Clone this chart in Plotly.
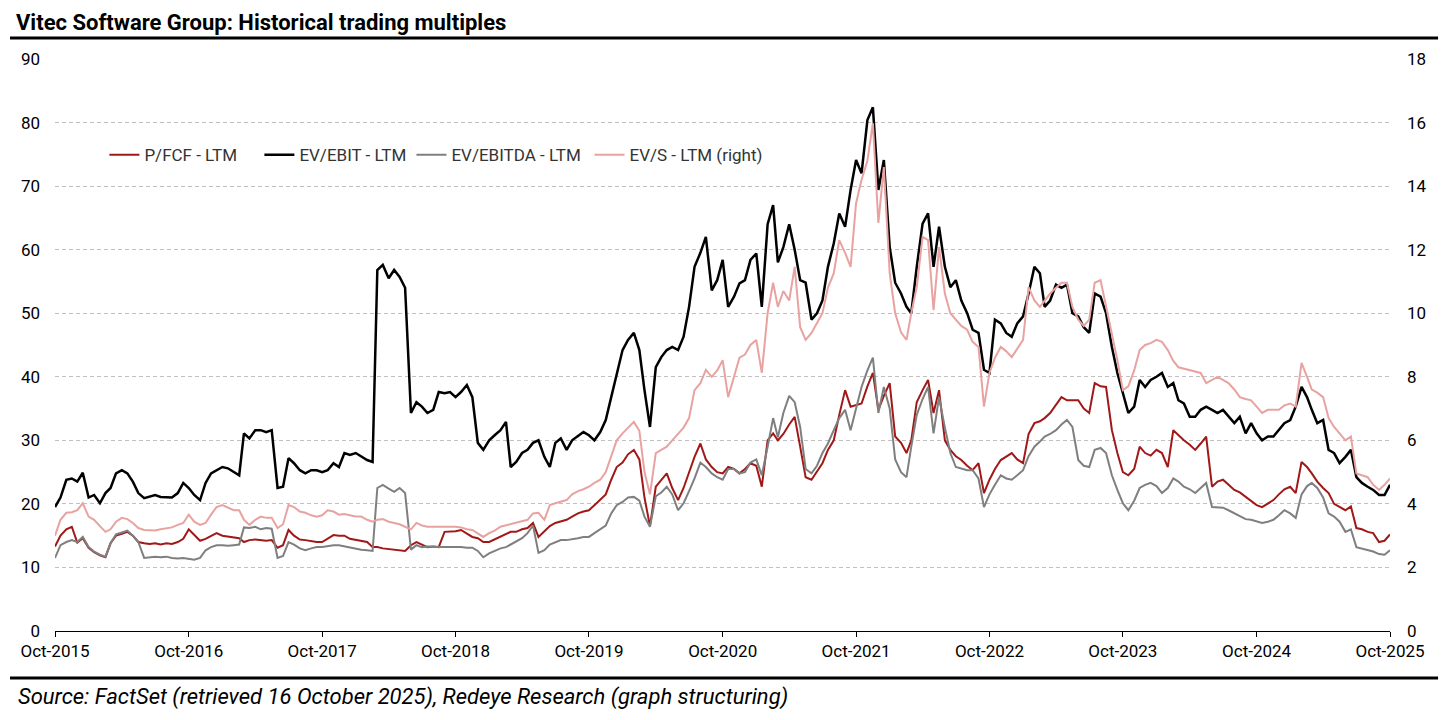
import plotly.graph_objects as go

# Semi-monthly observations, Oct-2015 .. Oct-2025 (1st and 16th of each month)
dates = []
for year in range(2015, 2026):
    for month in range(1, 13):
        if (year, month) < (2015, 10) or (year, month) > (2025, 9):
            continue
        dates.append(f"{year}-{month:02d}-01")
        dates.append(f"{year}-{month:02d}-16")
dates.append("2025-10-01")

p_fcf = [
    13.3, 15.0, 16.0, 16.4, 13.9, 14.6, 13.1, 12.4, 11.9, 11.6, 13.8, 15.0, 15.3, 15.6, 15.0, 14.0,
    13.8, 13.7, 13.8, 13.6, 13.8, 13.7, 14.0, 14.5, 16.0, 15.2, 14.2, 14.5, 15.0, 15.4, 15.0, 14.9,
    14.8, 14.6, 14.0, 14.3, 14.4, 14.3, 14.2, 14.3, 13.1, 13.5, 15.9, 15.0, 14.4, 14.3, 14.1, 14.0,
    14.0, 14.6, 15.1, 15.0, 15.0, 14.5, 14.3, 14.2, 14.0, 13.2, 13.2, 13.0, 12.9, 12.8, 12.7, 12.6,
    13.5, 14.0, 13.6, 13.2, 13.3, 13.2, 15.6, 15.6, 15.7, 15.9, 15.4, 14.8, 14.6, 14.0, 14.0, 14.4,
    14.8, 15.2, 15.6, 15.6, 16.0, 16.2, 17.0, 14.8, 15.6, 16.5, 17.0, 17.2, 17.5, 18.0, 18.5, 18.8,
    19.0, 19.8, 20.6, 21.5, 23.8, 25.8, 26.5, 27.8, 28.5, 27.0, 21.0, 16.5, 22.7, 23.8, 24.8, 22.5,
    20.6, 22.5, 25.0, 27.4, 29.5, 27.0, 25.8, 25.0, 24.8, 25.8, 25.5, 24.8, 25.5, 26.4, 26.0, 22.7,
    30.0, 31.1, 30.0, 31.0, 32.5, 33.7, 29.0, 24.2, 23.8, 25.0, 26.4, 28.5, 30.0, 34.0, 37.9, 35.3,
    35.5, 35.8, 38.5, 40.6, 34.8, 37.0, 39.0, 30.6, 29.6, 28.0, 30.0, 36.0, 37.9, 39.5, 34.3, 37.9,
    30.0, 28.5, 27.5, 26.9, 26.0, 25.3, 26.4, 21.7, 23.8, 25.5, 26.9, 27.5, 28.0, 27.0, 26.4, 31.0,
    32.7, 33.0, 33.5, 34.3, 35.5, 36.8, 36.3, 36.3, 36.3, 35.0, 34.3, 39.0, 38.5, 38.4, 31.6, 28.0,
    25.0, 24.5, 25.5, 29.0, 28.0, 27.6, 28.5, 28.0, 25.8, 31.6, 30.8, 30.0, 29.3, 28.5, 29.5, 30.6,
    22.7, 23.5, 23.8, 23.0, 22.2, 21.8, 21.1, 20.5, 19.8, 19.5, 20.0, 20.6, 21.5, 22.3, 22.7, 21.7,
    26.6, 25.8, 24.8, 23.5, 22.5, 21.7, 20.0, 19.5, 19.0, 19.6, 16.2, 16.0, 15.6, 15.4, 14.0, 14.2,
    15.2,
]

ev_ebit = [
    19.5, 21.0, 23.8, 24.0, 23.5, 24.9, 21.0, 21.4, 20.1, 21.7, 22.5, 24.8, 25.3, 24.8, 23.5, 21.7,
    20.9, 21.1, 21.4, 21.1, 21.1, 21.0, 21.7, 23.3, 22.5, 21.4, 20.6, 23.3, 24.8, 25.3, 25.8, 25.6,
    25.0, 24.5, 31.1, 30.3, 31.6, 31.6, 31.3, 31.6, 22.5, 22.7, 27.2, 26.4, 25.3, 24.8, 25.3, 25.3,
    25.0, 25.3, 26.4, 25.8, 28.0, 27.7, 28.0, 27.4, 26.9, 26.6, 56.8, 57.6, 55.5, 56.8, 55.7, 54.0,
    34.3, 36.0, 35.3, 34.3, 34.8, 37.6, 37.4, 37.6, 36.8, 37.6, 38.7, 36.8, 29.6, 28.5, 30.0, 30.8,
    31.6, 32.9, 25.8, 26.6, 28.0, 28.5, 29.6, 30.0, 27.4, 25.8, 29.6, 30.3, 28.5, 30.0, 30.6, 31.3,
    30.8, 30.0, 31.3, 33.2, 36.8, 40.6, 44.2, 45.8, 46.9, 44.2, 37.9, 32.1, 41.5, 43.1, 44.2, 44.7,
    44.2, 46.3, 51.0, 57.3, 59.5, 62.0, 53.6, 55.2, 58.4, 51.0, 52.6, 54.7, 55.2, 58.4, 59.4, 51.0,
    64.0, 67.0, 58.0, 60.4, 64.0, 60.0, 55.2, 54.8, 49.0, 50.0, 52.0, 57.3, 61.0, 65.7, 63.6, 69.4,
    74.1, 72.0, 80.4, 82.4, 69.4, 74.1, 60.4, 54.8, 53.1, 51.0, 50.0, 57.3, 64.1, 65.7, 57.3, 63.6,
    57.3, 54.1, 55.2, 52.0, 50.0, 47.4, 46.9, 41.1, 40.6, 49.0, 48.4, 46.9, 46.3, 48.4, 49.5, 53.1,
    57.3, 56.3, 51.0, 52.0, 54.5, 54.0, 54.5, 50.0, 49.5, 47.8, 46.9, 53.1, 52.6, 50.0, 44.7, 40.6,
    37.4, 34.3, 35.3, 39.5, 38.4, 39.5, 40.0, 40.6, 38.4, 39.0, 36.3, 35.8, 33.7, 33.7, 34.8, 35.3,
    34.8, 34.3, 34.8, 33.7, 32.7, 33.7, 31.1, 32.7, 31.1, 30.0, 30.6, 30.6, 31.6, 32.7, 33.2, 35.3,
    38.4, 36.8, 34.8, 32.7, 33.2, 28.5, 28.0, 26.4, 27.4, 28.5, 24.2, 23.3, 22.7, 22.2, 21.4, 21.4,
    23.0,
]

ev_ebitda = [
    11.5, 13.5, 14.0, 14.3, 14.0, 14.8, 13.2, 12.5, 12.0, 11.7, 13.8, 15.2, 15.5, 15.8, 15.0, 14.0,
    11.5, 11.6, 11.7, 11.6, 11.7, 11.5, 11.4, 11.5, 11.3, 11.2, 11.5, 12.7, 13.2, 13.5, 13.5, 13.4,
    13.5, 13.6, 16.3, 16.2, 16.4, 16.0, 16.2, 16.1, 11.5, 11.8, 14.0, 13.6, 13.0, 12.7, 13.0, 13.2,
    13.2, 13.4, 13.5, 13.5, 13.3, 13.2, 13.0, 12.8, 12.7, 12.6, 22.5, 23.0, 22.4, 21.9, 22.5, 21.7,
    12.8, 13.5, 13.2, 13.3, 13.2, 13.2, 13.2, 13.3, 13.2, 13.2, 13.1, 13.1, 12.6, 11.6, 12.2, 12.6,
    13.0, 13.2, 13.6, 14.0, 14.6, 15.4, 16.6, 12.3, 12.7, 13.6, 14.0, 14.3, 14.3, 14.4, 14.6, 14.8,
    14.8, 15.4, 16.0, 16.6, 18.5, 19.8, 20.3, 21.0, 21.1, 20.5, 18.0, 16.4, 21.2, 21.8, 22.7, 21.5,
    19.0, 20.1, 22.0, 24.0, 26.5, 25.8, 24.8, 24.2, 23.8, 25.5, 25.5, 24.8, 25.0, 26.5, 27.0, 24.5,
    29.0, 33.5, 30.5, 34.3, 37.0, 36.0, 32.1, 25.5, 24.8, 26.0, 28.0, 29.5, 31.6, 33.5, 34.8, 31.6,
    35.0, 38.4, 41.0, 43.0, 34.3, 38.4, 35.0, 27.0, 25.0, 24.2, 29.0, 34.0, 36.5, 38.4, 31.1, 36.8,
    32.0, 28.0, 25.8, 25.6, 25.3, 25.3, 24.0, 19.5, 21.5, 23.0, 24.5, 24.0, 23.8, 24.5, 25.3, 27.5,
    29.0, 29.8, 30.6, 31.0, 31.6, 32.5, 33.2, 32.1, 26.9, 26.0, 25.8, 28.5, 28.8, 28.0, 24.5, 22.2,
    20.1, 19.0, 20.5, 22.5, 23.0, 23.3, 22.8, 21.7, 22.5, 24.0, 23.5, 22.7, 22.3, 21.7, 22.5, 23.3,
    19.5, 19.5, 19.4, 19.0, 18.5, 18.0, 17.6, 17.5, 17.2, 17.0, 17.2, 17.5, 18.2, 19.0, 18.5, 17.8,
    21.5, 22.8, 23.3, 22.5, 21.0, 18.5, 18.0, 17.2, 15.6, 16.0, 13.2, 13.0, 12.8, 12.5, 12.1, 12.0,
    12.7,
]

ev_s = [
    3.00, 3.50, 3.72, 3.74, 3.80, 4.02, 3.60, 3.50, 3.30, 3.12, 3.20, 3.44, 3.56, 3.52, 3.40, 3.24,
    3.18, 3.18, 3.16, 3.20, 3.22, 3.26, 3.34, 3.40, 3.66, 3.44, 3.34, 3.40, 3.66, 3.90, 3.96, 3.88,
    3.80, 3.80, 3.50, 3.34, 3.50, 3.60, 3.56, 3.56, 3.24, 3.36, 3.96, 3.90, 3.76, 3.72, 3.64, 3.60,
    3.64, 3.80, 3.76, 3.66, 3.68, 3.64, 3.60, 3.60, 3.50, 3.44, 3.50, 3.52, 3.44, 3.40, 3.36, 3.28,
    3.20, 3.40, 3.32, 3.28, 3.28, 3.28, 3.30, 3.28, 3.28, 3.26, 3.20, 3.18, 3.08, 2.96, 3.08, 3.16,
    3.28, 3.32, 3.36, 3.40, 3.44, 3.50, 3.70, 3.72, 3.50, 3.96, 4.02, 4.06, 4.12, 4.30, 4.40, 4.46,
    4.54, 4.66, 4.76, 5.00, 5.48, 6.00, 6.22, 6.40, 6.58, 6.30, 5.00, 4.30, 5.60, 5.70, 5.80, 6.00,
    6.22, 6.40, 6.70, 7.58, 7.80, 8.22, 8.00, 8.20, 8.52, 7.36, 8.00, 8.60, 8.70, 9.00, 9.16, 8.12,
    10.00, 10.96, 10.20, 10.70, 10.40, 11.46, 9.56, 9.16, 9.38, 9.70, 10.00, 10.80, 11.26, 12.30, 11.90, 11.46,
    13.46, 14.20, 14.80, 15.98, 12.84, 14.60, 11.26, 10.00, 9.40, 9.16, 10.00, 10.82, 12.40, 12.30, 10.10, 12.08,
    10.62, 10.00, 9.80, 9.60, 9.48, 9.10, 8.94, 7.06, 8.12, 8.60, 8.94, 8.80, 8.62, 8.90, 9.16, 10.82,
    10.40, 10.20, 10.40, 10.62, 10.80, 10.96, 10.96, 10.20, 9.80, 9.60, 9.80, 10.96, 11.04, 10.20, 9.40, 8.52,
    7.58, 7.70, 8.20, 8.84, 9.00, 9.06, 9.16, 9.10, 8.84, 8.50, 8.30, 8.26, 8.22, 8.16, 8.12, 7.80,
    7.90, 8.00, 7.90, 7.80, 7.60, 7.36, 7.30, 7.26, 7.06, 6.86, 6.96, 6.96, 6.96, 7.10, 7.16, 7.06,
    8.44, 8.00, 7.60, 7.50, 7.36, 6.70, 6.42, 6.22, 6.00, 6.12, 4.96, 4.90, 4.84, 4.60, 4.44, 4.60,
    4.80,
]

tick_dates = [f"{y}-10-01" for y in range(2015, 2026)]

font = "Roboto, Arial, sans-serif"

fig = go.Figure()
fig.add_trace(go.Scatter(x=dates, y=p_fcf, name="P/FCF - LTM", mode="lines",
                         line=dict(color="#A01818", width=2), legend="legend"))
fig.add_trace(go.Scatter(x=dates, y=ev_ebit, name="EV/EBIT - LTM", mode="lines",
                         line=dict(color="#000000", width=2.5), legend="legend2"))
fig.add_trace(go.Scatter(x=dates, y=ev_ebitda, name="EV/EBITDA - LTM", mode="lines",
                         line=dict(color="#7F7F7F", width=2), legend="legend3"))
fig.add_trace(go.Scatter(x=dates, y=ev_s, name="EV/S - LTM (right)", mode="lines",
                         line=dict(color="#E8A3A1", width=2), yaxis="y2", legend="legend4"))

# one legend box per entry so each sits where the original puts it
legend_style = dict(orientation="h", y=0.832, xanchor="left", yanchor="middle",
                    font=dict(size=17, color="#333"), bgcolor="rgba(0,0,0,0)", itemwidth=30)

fig.update_layout(
    width=1456, height=720,
    paper_bgcolor="white", plot_bgcolor="white",
    margin=dict(l=47, r=74, t=51, b=97),
    font=dict(family=font, size=17, color="#000"),
    showlegend=True,
    legend=dict(x=0.0370, **legend_style),
    legend2=dict(x=0.1531, **legend_style),
    legend3=dict(x=0.2670, **legend_style),
    legend4=dict(x=0.4004, **legend_style),
    xaxis=dict(
        type="date", range=["2015-10-01", "2025-10-01"],
        tickvals=tick_dates, tickformat="%b-%Y",
        showgrid=False, showline=True, linecolor="#000", linewidth=1,
        ticks="outside", ticklen=5, tickcolor="#000",
        tickfont=dict(size=17, color="#000"), zeroline=False,
    ),
    yaxis=dict(
        range=[0, 90], dtick=10, showgrid=True, gridcolor="#C0C0C0",
        griddash="4px,3px", gridwidth=1, zeroline=False, showline=False,
        tickfont=dict(size=17, color="#000"), ticks="", ticklabelstandoff=14,
    ),
    yaxis2=dict(
        range=[0, 18], dtick=2, overlaying="y", side="right", showgrid=False,
        zeroline=False, showline=False, tickfont=dict(size=17, color="#000"),
        ticks="", ticklabelstandoff=16,
    ),
    title=dict(text="<b>Vitec Software Group: Historical trading multiples</b>",
               x=0.0055, xanchor="left", y=0.9806, yanchor="middle",
               font=dict(family=font, size=22, color="#000")),
)

# Rules above the chart and above the source note
fig.add_shape(type="line", xref="paper", yref="paper", x0=-0.0337, x1=1.036,
              y0=1.0367, y1=1.0367, line=dict(color="#000", width=3))
fig.add_shape(type="line", xref="paper", yref="paper", x0=-0.0337, x1=1.036,
              y0=-0.0822, y1=-0.0822, line=dict(color="#000", width=3))

fig.add_annotation(text="<i>Source: FactSet (retrieved 16 October 2025), Redeye Research (graph structuring)</i>",
                   xref="paper", yref="paper", x=-0.0292, y=-0.1154, xanchor="left", yanchor="middle",
                   showarrow=False, font=dict(family=font, size=22, color="#000"))

fig.write_html("out.html")
